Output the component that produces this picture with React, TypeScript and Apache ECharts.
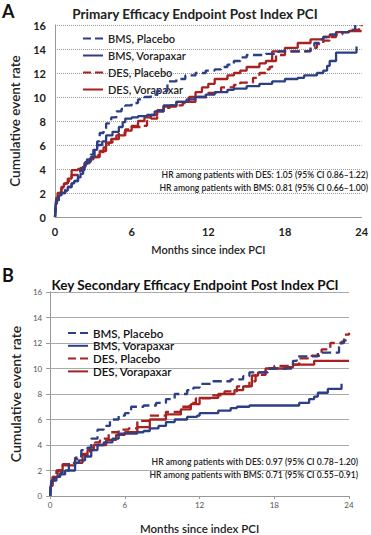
import React, { useEffect, useRef } from "react";
import * as echarts from "echarts";

const seriesNames = ["BMS, Placebo", "BMS, Vorapaxar", "DES, Placebo", "DES, Vorapaxar"];
const xTicks = [0, 6, 12, 18, 24];

const aBmsPlacebo = [[0,0],[0.05,0.8],[0.1,1.4],[0.3,1.8],[0.5,2.0],[0.8,2.3],[1.0,2.5],[1.3,2.8],[1.5,3.0],[1.8,3.5],[2.0,3.9],[2.3,4.4],[2.5,4.8],[2.8,5.2],[3.0,5.6],[3.3,6.3],[3.5,7.0],[3.8,7.4],[4.0,7.8],[4.4,8.3],[4.8,8.8],[5.2,9.0],[5.5,9.3],[6.0,9.5],[6.5,9.8],[7.0,10.0],[7.5,10.2],[8.0,10.5],[8.6,10.5],[8.8,11.3],[9.5,11.5],[10.2,11.8],[11.0,12.0],[11.8,12.2],[12.5,12.3],[13.0,12.5],[13.5,12.7],[14.0,13.0],[14.5,13.3],[15.0,13.5],[16.5,13.6],[17.5,13.8],[19.5,13.85],[20.0,14.2],[20.3,14.5],[20.7,14.8],[21.0,15.0],[21.5,15.2],[22.0,15.4],[23.0,15.6],[23.5,16.0]];
const aBmsVorapaxar = [[0,0],[0.05,0.9],[0.1,1.4],[0.3,1.8],[0.5,2.0],[0.8,2.2],[1.0,2.5],[1.3,2.8],[1.5,3.0],[1.8,3.3],[2.0,3.6],[2.2,4.2],[2.4,4.6],[2.8,5.0],[3.1,5.6],[3.3,6.0],[3.7,6.3],[4.0,6.8],[4.5,7.1],[5.0,7.5],[5.3,7.9],[5.5,8.2],[6.0,8.3],[6.5,8.4],[7.2,8.5],[7.8,8.8],[8.5,9.3],[9.5,9.6],[10.3,9.8],[11.0,10.0],[11.8,10.2],[12.5,10.4],[13.5,10.6],[14.0,10.7],[15.0,10.9],[16.0,11.1],[17.0,11.3],[18.0,11.5],[19.0,11.6],[19.5,11.8],[20.5,12.0],[21.0,12.2],[21.3,12.6],[21.5,13.0],[22.0,13.7],[23.5,13.7],[23.6,14.2]];
const aDesPlacebo = [[0,0],[0.05,1.0],[0.15,1.6],[0.3,2.0],[0.5,2.4],[0.8,2.8],[1.0,3.0],[1.3,3.5],[1.7,3.8],[2.0,4.0],[2.3,4.5],[2.7,4.8],[3.0,5.0],[3.4,5.4],[3.8,5.8],[4.2,6.2],[4.5,6.5],[5.0,7.0],[5.5,7.3],[6.0,7.5],[6.8,7.6],[7.2,8.0],[7.5,8.2],[8.0,8.8],[8.5,9.1],[9.0,9.3],[10.0,9.5],[10.5,9.6],[11.0,10.0],[12.0,10.35],[13.0,10.8],[14.0,11.0],[14.5,11.2],[15.5,11.6],[16.0,12.0],[16.5,12.3],[16.8,12.5],[17.0,13.0],[17.3,13.5],[18.0,13.8],[19.5,13.8],[20.0,14.1],[20.5,14.4],[21.0,14.7],[21.5,15.0],[22.0,15.2],[22.5,15.4],[23.0,15.6],[23.8,15.9],[24,16.0]];
const aDesVorapaxar = [[0,0],[0.05,1.0],[0.1,1.6],[0.2,2.0],[0.5,2.5],[0.7,2.8],[1.0,3.2],[1.3,3.9],[1.8,4.0],[2.0,4.1],[2.3,4.5],[2.7,4.8],[3.0,5.0],[3.5,5.5],[4.0,6.2],[4.4,6.5],[4.8,6.8],[5.5,7.2],[6.0,7.6],[6.5,8.0],[7.0,8.3],[7.5,8.5],[8.0,8.9],[8.5,9.2],[9.5,9.6],[10.5,10.0],[11.0,10.4],[11.5,10.8],[12.0,11.1],[12.5,11.5],[13.5,11.8],[14.0,12.0],[14.5,12.2],[15.0,12.5],[16.0,12.8],[16.5,13.0],[17.0,13.8],[18.0,14.1],[19.0,14.5],[20.0,14.8],[21.0,15.0],[21.5,15.2],[22.0,15.4],[23.0,15.5],[24.0,15.5]];

const bBmsPlacebo = [[0,0],[0.05,0.7],[0.1,1.2],[0.3,1.4],[0.5,1.6],[0.8,1.8],[1.0,2.0],[1.5,2.5],[2.0,3.0],[2.5,3.6],[3.0,3.8],[3.3,4.5],[3.8,5.2],[4.3,5.5],[4.8,6.0],[5.5,6.3],[6.0,6.5],[6.5,7.0],[7.5,7.1],[8.5,7.3],[9.3,7.6],[10.0,8.0],[11.0,8.3],[11.5,8.5],[12.0,8.8],[13.0,9.0],[14.5,9.15],[15.5,9.4],[16.0,9.7],[17.5,10.0],[19.2,10.0],[19.5,10.6],[19.8,10.95],[21.5,11.25],[23.0,11.25],[23.2,11.7],[23.4,12.0],[23.6,12.2],[24.0,12.2]];
const bBmsVorapaxar = [[0,0],[0.05,0.8],[0.1,1.2],[0.5,1.5],[0.8,1.7],[1.2,2.0],[1.7,2.0],[2.0,2.6],[2.3,2.8],[2.8,3.1],[3.3,3.6],[3.8,4.0],[4.3,4.2],[5.0,4.5],[5.5,4.9],[6.5,4.9],[7.0,5.0],[7.5,5.1],[8.0,5.3],[8.7,5.5],[9.3,5.8],[10.0,6.0],[11.0,6.2],[11.8,6.3],[12.0,6.5],[13.5,6.7],[14.5,6.9],[15.0,7.0],[16.0,7.1],[19.5,7.1],[20.0,7.3],[20.8,7.6],[21.2,7.8],[21.5,8.1],[22.3,8.4],[23.3,8.4],[23.4,8.8]];
const bDesPlacebo = [[0,0],[0.05,0.8],[0.2,1.5],[0.5,2.0],[1.0,2.5],[1.5,2.6],[2.0,2.9],[2.5,3.3],[3.2,3.8],[3.6,4.2],[4.0,4.5],[4.7,5.0],[5.5,5.2],[6.3,5.3],[7.0,5.9],[8.0,6.3],[9.3,6.6],[10.5,7.0],[11.2,7.3],[11.7,7.65],[13.0,7.9],[14.0,8.2],[15.0,8.6],[16.0,9.0],[16.5,9.5],[17.3,10.0],[18.0,10.2],[19.3,10.3],[20.0,10.8],[21.0,11.0],[21.8,11.5],[22.5,12.0],[23.4,12.1],[23.6,12.65],[24.0,12.8]];
const bDesVorapaxar = [[0,0],[0.05,0.8],[0.2,1.5],[0.6,2.0],[1.0,2.4],[2.0,2.6],[2.6,3.2],[3.0,3.6],[3.5,4.0],[4.5,4.4],[5.3,4.8],[6.0,5.0],[7.0,5.4],[8.0,6.0],[9.3,6.4],[10.5,6.8],[11.3,7.2],[12.0,7.7],[13.5,8.0],[14.8,8.3],[15.5,8.6],[16.2,9.45],[16.7,9.7],[17.3,10.0],[19.0,10.1],[19.5,10.3],[20.5,10.3],[21.2,10.6],[24.0,10.6]];

const titleA = "Primary Efficacy Endpoint Post Index PCI";
const titleB = "Key Secondary Efficacy Endpoint Post Index PCI";
const hrA = ["HR among patients with DES: 1.05 (95% CI 0.86\u20131.22)", "HR among patients with BMS: 0.81 (95% CI 0.66\u20131.00)"];
const hrB = ["HR among patients with DES: 0.97 (95% CI 0.78\u20131.20)", "HR among patients with BMS: 0.71 (95% CI 0.55\u20130.91)"];

const BLUE = "#2c3e86";
const RED = "#a6211f";
const FONT = "Lato";

export default function App() {
  const ref = useRef<HTMLDivElement>(null);
  useEffect(() => {
    const chart = echarts.init(ref.current!, null, { renderer: "svg" });
    const styles = [
      { color: BLUE, type: "dashed" },
      { color: BLUE, type: "solid" },
      { color: RED, type: "dashed" },
      { color: RED, type: "solid" },
    ];
    const dataA = [aBmsPlacebo, aBmsVorapaxar, aDesPlacebo, aDesVorapaxar];
    const dataB = [bBmsPlacebo, bBmsVorapaxar, bDesPlacebo, bDesVorapaxar];
    const mk = (data: number[][][], idx: number) =>
      data.map((d, i) => ({
        name: seriesNames[i],
        type: "line",
        step: "end",
        xAxisIndex: idx,
        yAxisIndex: idx,
        data: d,
        showSymbol: false,
        symbol: "none",
        z: 10 - i,
        lineStyle: { color: styles[i].color, type: styles[i].type, width: 2.3 },
        itemStyle: { color: styles[i].color },
      }));
    const xAxisBase = (idx: number, bold: boolean, fs: number, color: string, margin: number, nameGap: number, nameFs: number) => ({
      type: "value",
      gridIndex: idx,
      min: 0,
      max: 24,
      interval: 6,
      name: "Months since index PCI",
      nameLocation: "middle",
      nameGap,
      nameTextStyle: { fontFamily: FONT, fontSize: nameFs, fontWeight: 600, color: "#222" },
      axisLine: { show: true, lineStyle: { color: "#999", width: 1 } },
      axisTick: { show: idx === 1, length: 3, lineStyle: { color: "#999" } },
      axisLabel: { fontFamily: FONT, fontSize: fs, fontWeight: bold ? 700 : 400, color, margin, formatter: (v: number) => (xTicks.includes(v) ? String(v) : "") },
      splitLine: { show: false },
    });
    const yAxisBase = (idx: number, bold: boolean, fs: number, color: string, margin: number, nameGap: number, nameFs: number, gridType: string, gridColor: string) => ({
      type: "value",
      gridIndex: idx,
      min: 0,
      max: 16,
      interval: 2,
      name: "Cumulative event rate",
      nameLocation: "middle",
      nameGap,
      nameRotate: 90,
      nameTextStyle: { fontFamily: FONT, fontSize: nameFs, fontWeight: 600, color: "#222" },
      axisLine: { show: true, lineStyle: { color: "#999", width: 1 } },
      axisTick: { show: idx === 1, length: 4, lineStyle: { color: "#999" } },
      axisLabel: { fontFamily: FONT, fontSize: fs, fontWeight: bold ? 700 : 400, color, margin },
      splitLine: { show: true, lineStyle: { color: gridColor, type: gridType, width: 1 } },
    });
    const hrText = (text: string, x: number, y: number) => ({
      type: "text",
      x,
      y,
      z: 100,
      style: { text, fontFamily: FONT, fontSize: 8.6, fontWeight: 600, fill: "#222", textAlign: "right", textVerticalAlign: "middle" },
    });
    chart.setOption({
      animation: false,
      textStyle: { fontFamily: FONT },
      title: [
        { text: titleA, left: 190, top: 2, textAlign: "center", textStyle: { fontFamily: FONT, fontSize: 13.5, fontWeight: 700, color: "#222" } },
        { text: titleB, left: 190, top: 273, textAlign: "center", textStyle: { fontFamily: FONT, fontSize: 13.5, fontWeight: 700, color: "#111" } },
      ],
      grid: [
        { left: 55, right: 7, top: 25, height: 192, containLabel: false },
        { left: 36, right: 22, top: 292, height: 214, containLabel: false },
      ],
      legend: [
        {
          data: seriesNames,
          orient: "vertical",
          left: 77,
          top: 28,
          itemWidth: 20,
          itemHeight: 11,
          itemGap: 6,
          itemStyle: { opacity: 0 },
          textStyle: { fontFamily: FONT, fontSize: 11, fontWeight: 600, color: "#222" },
        },
        {
          data: seriesNames,
          orient: "vertical",
          left: 62,
          top: 322,
          itemWidth: 20,
          itemHeight: 12,
          itemGap: 0.8,
          itemStyle: { opacity: 0 },
          textStyle: { fontFamily: FONT, fontSize: 11.5, fontWeight: 600, color: "#111", lineHeight: 12 },
        },
      ],
      xAxis: [
        xAxisBase(0, true, 11, "#222", 9, 27, 11),
        xAxisBase(1, false, 8, "#555", 5, 26, 11.5),
      ],
      yAxis: [
        yAxisBase(0, true, 11, "#222", 9, 22, 13.5, "dotted", "#999"),
        yAxisBase(1, false, 8, "#555", 8, 12, 14, "solid", "#aaa"),
      ],
      series: [...mk(dataA, 0), ...mk(dataB, 1)],
      graphic: [
        { type: "text", left: 2, top: 2, style: { text: "A", fontFamily: FONT, fontSize: 18, fontWeight: 700, fill: "#111" } },
        { type: "text", left: 2, top: 266, style: { text: "B", fontFamily: FONT, fontSize: 18, fontWeight: 700, fill: "#111" } },
        hrText(hrA[0], 368, 175),
        hrText(hrA[1], 368, 188),
        hrText(hrB[0], 358, 462),
        hrText(hrB[1], 358, 474.5),
      ],
    });
    return () => chart.dispose();
  }, []);
  return <div ref={ref} style={{ position: "absolute", left: 0, top: 0, width: 371, height: 535, background: "#fff" }} />;
}
